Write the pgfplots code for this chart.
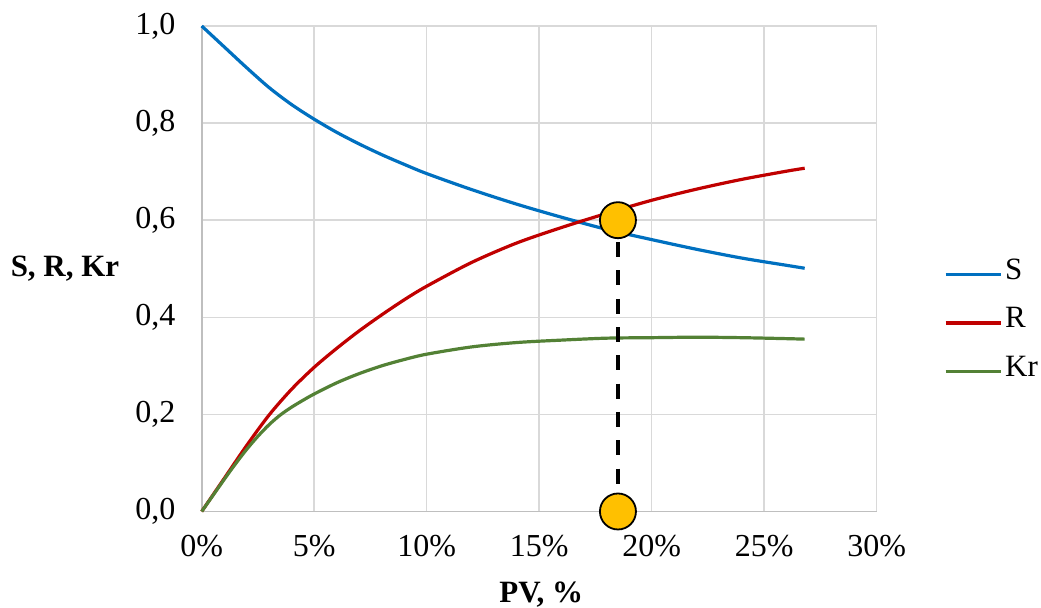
\documentclass[border=0pt]{standalone}
\usepackage{fontspec}
\setmainfont{Liberation Serif}
\usepackage{pgfplots}
\pgfplotsset{compat=1.18}
\definecolor{cS}{HTML}{0070C0}
\definecolor{cR}{HTML}{C00000}
\definecolor{cK}{HTML}{538135}
\definecolor{gridc}{HTML}{D9D9D9}
\definecolor{axc}{HTML}{BFBFBF}
\definecolor{gold}{HTML}{FFC000}
\newcommand{\fs}{\fontsize{15.5}{18}\selectfont}
\newcommand{\ft}{\fontsize{16}{19}\selectfont}
\begin{document}
\begin{tikzpicture}
\begin{axis}[
  at={(0,0)}, anchor=south west,
  scale only axis, width=337.5pt, height=242.75pt,
  xmin=0, xmax=30, ymin=0, ymax=1,
  xtick={0,5,10,15,20,25,30},
  xticklabels={0\%,5\%,10\%,15\%,20\%,25\%,30\%},
  ytick={0,0.2,0.4,0.6,0.8,1},
  /pgf/number format/fixed, /pgf/number format/fixed zerofill, /pgf/number format/precision=1, /pgf/number format/use comma, /pgf/number format/assume math mode=true,
  tick label style={font=\ft},
  yticklabel style={xshift=-9.6pt},
  xticklabel style={yshift=-8.3pt},
  major tick length=0pt,
  grid=major,
  major grid style={gridc, line width=0.75pt},
  axis x line=bottom, axis y line=left,
  axis line style={axc, line width=0.9pt, -},
  xlabel={\textbf{PV, \%}},
  ylabel={\textbf{S, R, Kr}},
  label style={font=\fs},
  xlabel style={at={(axis description cs:0.503,0)}, anchor=center, yshift=-41.5pt},
  ylabel style={at={(axis description cs:-0.2025,0.5)}, rotate=-90, anchor=center},
  clip=false,
  legend style={draw=none, fill=none, font=\fs, at={(axis description cs:1.099,0.3883)}, anchor=west, inner sep=0pt, row sep=12.2pt, nodes={inner sep=1.5pt, text height=0.7em, text depth=0.2em}},
  legend cell align=left,
  legend image code/.code={\draw[#1, line width=1.6pt] (0pt,0pt) -- (27.5pt,0pt);},
]
\addplot[cS, line width=1.6pt, smooth] coordinates {
(0,1.000) (1,0.957) (2,0.914) (3,0.873) (4,0.838) (5,0.808) (6,0.781) (7,0.757) (8,0.735) (9,0.715) (10,0.696)
(12,0.663) (14,0.633) (16,0.606) (18,0.581) (20,0.560) (22,0.540) (24,0.522) (26,0.507) (26.8,0.501)};
\addlegendentry{S}
\addplot[cR, line width=1.6pt, smooth] coordinates {
(0,0) (1,0.068) (2,0.136) (3,0.199) (4,0.252) (5,0.297) (6,0.336) (7,0.372) (8,0.405) (9,0.436) (10,0.464)
(12,0.513) (14,0.553) (16,0.585) (18,0.614) (20,0.641) (22,0.664) (24,0.684) (26,0.701) (26.8,0.707)};
\addlegendentry{R}
\addplot[cK, line width=1.6pt, smooth] coordinates {
(0,0) (1,0.066) (1.5,0.098) (2,0.128) (2.5,0.155) (3,0.179) (3.5,0.199) (4,0.215) (4.5,0.229) (5,0.242)
(6,0.265) (7,0.284) (8,0.300) (9,0.313) (10,0.324)
(12,0.339) (14,0.348) (16,0.353) (18,0.357) (20,0.358) (22,0.359) (24,0.358) (26,0.356) (26.8,0.355)};
\addlegendentry{Kr}
\addplot[black, line width=2pt, dash pattern=on 7.5pt off 6.65pt, dash phase=3.15pt, forget plot] coordinates {(18.5,0.6) (18.5,0)};
\addplot[only marks, mark=*, mark size=9pt, mark options={fill=gold, draw=black, line width=0.9pt}, forget plot] coordinates {(18.5,0.6) (18.5,0)};
\end{axis}
\pgfresetboundingbox
\path (-100.85pt,-48.25pt) rectangle (419.65pt,255.75pt);
\end{tikzpicture}
\end{document}
